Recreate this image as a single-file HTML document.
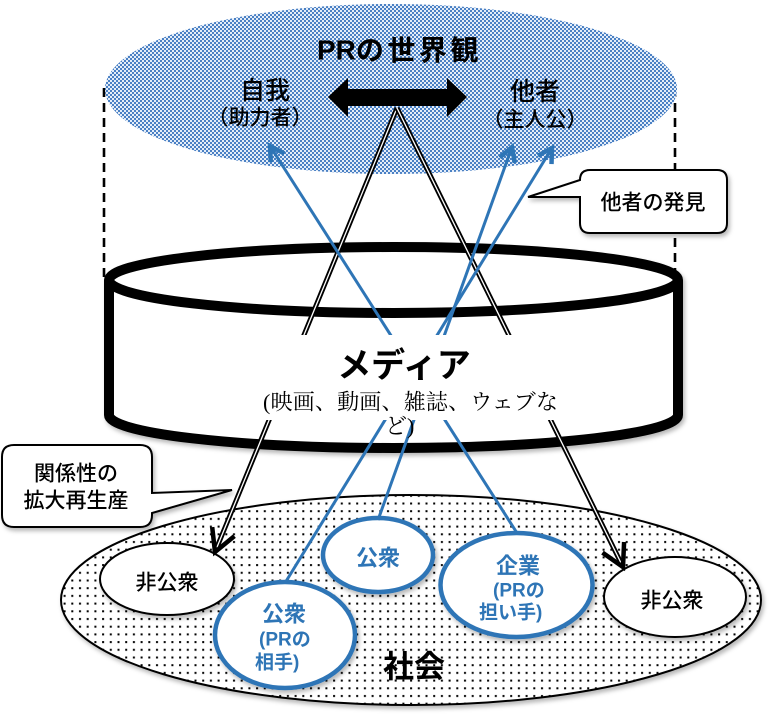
<!DOCTYPE html>
<html>
<head>
<meta charset="utf-8">
<style>
  html, body { margin: 0; padding: 0; background: #fff; }
  svg { display: block; }
  text { font-family: "Liberation Sans", "Noto Sans CJK JP", sans-serif; }
  .serif { font-family: "Liberation Serif", "Noto Serif CJK SC", serif; }
  .m { font-weight: 500; }
</style>
</head>
<body>
<svg width="770" height="716" viewBox="0 0 770 716" xmlns="http://www.w3.org/2000/svg">
  <defs>
    <pattern id="chk" width="4" height="4" patternUnits="userSpaceOnUse">
      <rect width="4" height="4" fill="#e4edf8"/>
      <rect width="2" height="2" fill="#4a80c4"/>
      <rect x="2" y="2" width="2" height="2" fill="#4a80c4"/>
    </pattern>
    <pattern id="dots" width="7.7" height="7.7" patternUnits="userSpaceOnUse">
      <rect width="7.7" height="7.7" fill="#fff"/>
      <rect x="2" y="2" width="2" height="2" fill="#000"/>
    </pattern>
    <filter id="sh" x="-10%" y="-10%" width="125%" height="135%">
      <feDropShadow dx="2" dy="3" stdDeviation="2" flood-color="#000" flood-opacity="0.28"/>
    </filter>
  </defs>

  <!-- dashed guide lines -->
  <line x1="104" y1="88" x2="104" y2="278" stroke="#000" stroke-width="2.6" stroke-dasharray="9 6"/>
  <line x1="675" y1="88" x2="675" y2="278" stroke="#000" stroke-width="2.6" stroke-dasharray="9 6"/>

  <!-- top world-view ellipse -->
  <ellipse cx="391" cy="89" rx="286" ry="85" fill="url(#chk)"/>

  <!-- double arrow -->
  <polygon points="328,97 348,78 348,89 447,89 447,78 467,97 447,117 447,106 348,106 348,117" fill="#000"/>

  <!-- cylinder -->
  <g filter="url(#sh)">
    <path d="M109,280 L109,415 A284.5,33 0 0 0 678,415 L678,280" fill="#fff" stroke="#000" stroke-width="10"/>
    <ellipse cx="393.5" cy="280" rx="284.5" ry="33" fill="#fff" stroke="#000" stroke-width="10"/>
  </g>

  <!-- society ellipse -->
  <ellipse cx="411" cy="600" rx="350" ry="105" fill="url(#dots)" stroke="#000" stroke-width="2" filter="url(#sh)"/>

  <!-- small ellipses -->
  <ellipse cx="167" cy="579" rx="67" ry="36" fill="#fff" stroke="#000" stroke-width="2" filter="url(#sh)"/>
  <ellipse cx="675" cy="597" rx="71" ry="40" fill="#fff" stroke="#000" stroke-width="2" filter="url(#sh)"/>
  <ellipse cx="378" cy="555" rx="55" ry="37" fill="#fff" stroke="#2E75B6" stroke-width="4.5" filter="url(#sh)"/>
  <ellipse cx="285" cy="635" rx="70" ry="53" fill="#fff" stroke="#2E75B6" stroke-width="4.5" filter="url(#sh)"/>
  <ellipse cx="516.5" cy="585" rx="76" ry="52" fill="#fff" stroke="#2E75B6" stroke-width="4.5" filter="url(#sh)"/>

  <!-- black double lines -->
  <g fill="none">
    <line x1="397" y1="108" x2="215" y2="552" stroke="#000" stroke-width="5"/>
    <line x1="397" y1="108" x2="215" y2="552" stroke="#fff" stroke-width="1.3"/>
    <line x1="397" y1="108" x2="623" y2="567" stroke="#000" stroke-width="5"/>
    <line x1="397" y1="108" x2="623" y2="567" stroke="#fff" stroke-width="1.3"/>
    <polyline points="234.4,536.1 215,552 212.2,527.1" stroke="#000" stroke-width="4.5" stroke-linejoin="miter"/>
    <polyline points="624.1,542 623,567 602.5,552.6" stroke="#000" stroke-width="4.5" stroke-linejoin="miter"/>
  </g>

  <!-- blue lines -->
  <g fill="none" stroke="#2E75B6" stroke-width="3">
    <line x1="517" y1="533" x2="270" y2="146"/>
    <line x1="378" y1="520" x2="512" y2="147"/>
    <line x1="285" y1="583" x2="552" y2="148"/>
    <polyline points="284.3,153.5 270,146 270.8,162.1" stroke-width="4.5"/>
    <polyline points="514.8,162.9 512,147 499.8,157.5" stroke-width="4.5"/>
    <polyline points="551.5,164.1 552,148 537.9,155.7" stroke-width="4.5"/>
  </g>

  <!-- white text box of media -->
  <rect x="262" y="335" width="298" height="85" fill="#fff"/>

  <!-- texts top -->
  <text x="317" y="50" font-size="28" font-weight="bold" dominant-baseline="central">PR<tspan letter-spacing="3.5">の世界観</tspan></text>
  <text class="m" x="265" y="91" font-size="25" text-anchor="middle" dominant-baseline="central">自我</text>
  <text class="m" x="260" y="118" font-size="21" text-anchor="middle" dominant-baseline="central">（助力者）</text>
  <text class="m" x="535" y="92" font-size="25" text-anchor="middle" dominant-baseline="central">他者</text>
  <text class="m" x="535" y="120" font-size="21" text-anchor="middle" dominant-baseline="central">（主人公）</text>

  <!-- media texts -->
  <text x="404" y="366" font-size="34" font-weight="bold" text-anchor="middle" dominant-baseline="central">メディア</text>
  <text class="serif" x="263" y="402" font-size="22" textLength="295" lengthAdjust="spacing" dominant-baseline="central">(映画、動画、雑誌、ウェブな</text>
  <text class="serif" x="385" y="426" font-size="22" dominant-baseline="central">ど)</text>

  <!-- callout: 他者の発見 -->
  <path d="M590,170 H717 Q727,170 727,180 V223 Q727,233 717,233 H590 Q580,233 580,223 V197 L528,197 L580,180 Q580,170 590,170 Z" fill="#fff" stroke="#000" stroke-width="2" filter="url(#sh)"/>
  <text class="m" x="653" y="203" font-size="21" text-anchor="middle" dominant-baseline="central">他者の発見</text>

  <!-- callout: 関係性の拡大再生産 -->
  <path d="M14,445 H140 Q152,445 152,457 V493 L232,490 L152,513 V515 Q152,527 140,527 H14 Q2,527 2,515 V457 Q2,445 14,445 Z" fill="#fff" stroke="#000" stroke-width="2" filter="url(#sh)"/>
  <text class="m" x="76" y="474" font-size="21" text-anchor="middle" dominant-baseline="central">関係性の</text>
  <text class="m" x="76" y="501" font-size="21" text-anchor="middle" dominant-baseline="central">拡大再生産</text>

  <!-- bottom labels -->
  <text class="m" x="167" y="583" font-size="21" text-anchor="middle" dominant-baseline="central">非公衆</text>
  <text class="m" x="672" y="601" font-size="21" text-anchor="middle" dominant-baseline="central">非公衆</text>

  <g fill="#2E75B6" font-weight="bold">
    <text x="378" y="558" font-size="22" text-anchor="middle" dominant-baseline="central">公衆</text>
    <text x="284" y="614" font-size="22" text-anchor="middle" dominant-baseline="central">公衆</text>
    <text x="259" y="640" font-size="19" dominant-baseline="central">(PRの</text>
    <text x="255" y="663" font-size="19" dominant-baseline="central">相手)</text>
    <text x="518" y="566" font-size="22" text-anchor="middle" dominant-baseline="central">企業</text>
    <text x="493" y="591" font-size="19" dominant-baseline="central">(PRの</text>
    <text x="479" y="613" font-size="19" dominant-baseline="central">担い手)</text>
  </g>

  <text x="414" y="667" font-size="31" font-weight="bold" text-anchor="middle" dominant-baseline="central">社会</text>
</svg>
</body>
</html>
